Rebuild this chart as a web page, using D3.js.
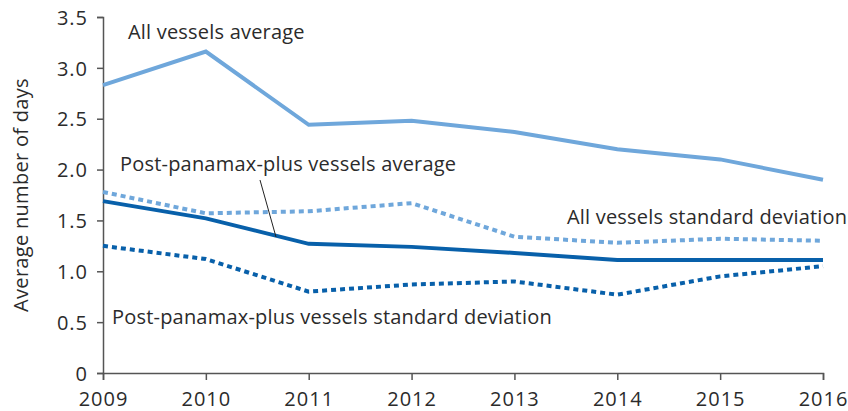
<!DOCTYPE html>
<html>
<head>
<meta charset="utf-8">
<script src="https://cdn.jsdelivr.net/npm/d3@7"></script>
<style>
  body { margin: 0; background: #fff; }
  svg text { font-family: "Open Sans", "Noto Sans", sans-serif; fill: #2b2b2b; }
</style>
</head>
<body>
<div id="chart"></div>
<script>
// chart data
var years = [2009, 2010, 2011, 2012, 2013, 2014, 2015, 2016];
var allAvg = [2.83, 3.16, 2.44, 2.48, 2.37, 2.20, 2.10, 1.90];
var allStd = [1.78, 1.57, 1.59, 1.67, 1.34, 1.28, 1.32, 1.30];
var ppAvg = [1.69, 1.52, 1.27, 1.24, 1.18, 1.11, 1.11, 1.11];
var ppStd = [1.25, 1.12, 0.80, 0.87, 0.90, 0.77, 0.95, 1.05];
var yTicks = [0, 0.5, 1.0, 1.5, 2.0, 2.5, 3.0, 3.5];

var width = 848, height = 411;
var margin = { top: 17, right: 25, bottom: 38, left: 103 };

var svg = d3.select("#chart").append("svg")
    .attr("width", width)
    .attr("height", height);

var x = d3.scaleLinear()
    .domain([2009, 2016])
    .range([margin.left, width - margin.right]);

var y = d3.scaleLinear()
    .domain([0, 3.5])
    .range([height - margin.bottom, margin.top]);

var lightBlue = "#6fa7db", darkBlue = "#0860aa";

// y axis
var yAxis = svg.append("g")
    .attr("transform", "translate(" + margin.left + ",0)")
    .call(d3.axisLeft(y).tickValues(yTicks).tickSize(6).tickPadding(9)
        .tickFormat(function (d) { return d === 0 ? "0" : d3.format(".1f")(d); }));

// x axis
var xAxis = svg.append("g")
    .attr("transform", "translate(0," + y(0) + ")")
    .call(d3.axisBottom(x).tickValues(years).tickSize(7).tickPadding(12)
        .tickFormat(d3.format("d")));

[yAxis, xAxis].forEach(function (ax) {
    ax.select(".domain").attr("stroke", "#555").attr("stroke-width", 1.5);
    ax.selectAll(".tick line").attr("stroke", "#555").attr("stroke-width", 1.5);
    ax.selectAll("text")
        .style("font-size", "20px")
        .style("letter-spacing", "1px")
        .attr("fill", "#2b2b2b");
});
yAxis.selectAll("text").attr("dy", "0.36em");

// y axis title
svg.append("text")
    .attr("transform", "translate(28," + y(1.75) + ") rotate(-90)")
    .attr("text-anchor", "middle")
    .style("font-size", "20px")
    .style("letter-spacing", "0.3px")
    .text("Average number of days");

var series = [
    { values: allAvg, color: lightBlue, dash: null },
    { values: allStd, color: lightBlue, dash: "5,4" },
    { values: ppAvg, color: darkBlue, dash: null },
    { values: ppStd, color: darkBlue, dash: "5,4" }
];

var line = d3.line()
    .x(function (d, i) { return x(years[i]); })
    .y(function (d) { return y(d); });

svg.selectAll("path.series")
    .data(series)
    .enter().append("path")
    .attr("class", "series")
    .attr("d", function (d) { return line(d.values); })
    .attr("fill", "none")
    .attr("stroke", function (d) { return d.color; })
    .attr("stroke-width", 4)
    .attr("stroke-dasharray", function (d) { return d.dash; });

// labels
var labels = [
    { text: "All vessels average", x: 128, y: 39 },
    { text: "Post-panamax-plus vessels average", x: 120, y: 171 },
    { text: "All vessels standard deviation", x: 567, y: 224 },
    { text: "Post-panamax-plus vessels standard deviation", x: 112, y: 324 }
];
svg.selectAll("text.lbl")
    .data(labels)
    .enter().append("text")
    .attr("class", "lbl")
    .attr("x", function (d) { return d.x; })
    .attr("y", function (d) { return d.y; })
    .style("font-size", "20px")
    .style("letter-spacing", "0.2px")
    .text(function (d) { return d.text; });

// leader line to post-panamax average
svg.append("line")
    .attr("x1", 260).attr("y1", 180)
    .attr("x2", 276).attr("y2", 237)
    .attr("stroke", "#222")
    .attr("stroke-width", 1);
</script>
</body>
</html>
